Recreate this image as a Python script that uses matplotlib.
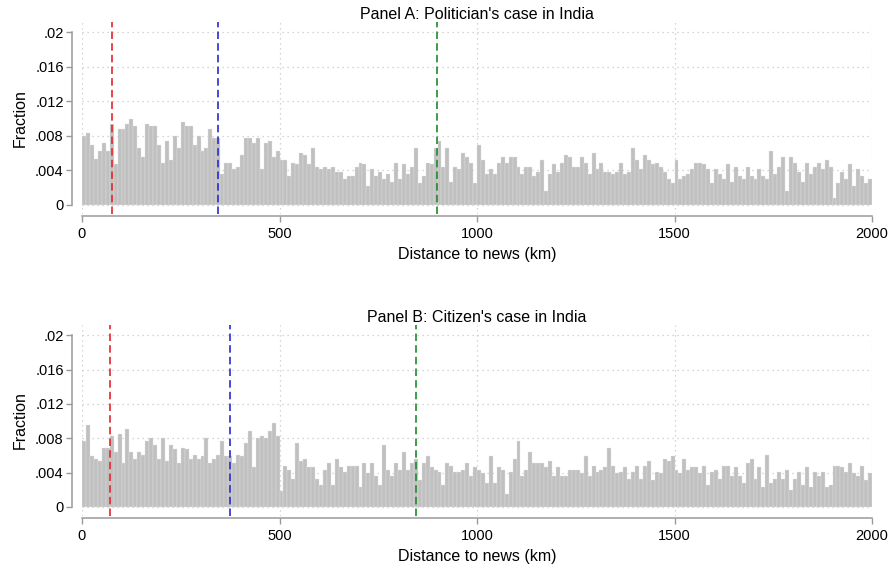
#!/usr/bin/python3
#
# plot.py: histogramas da distância até a notícia (Painel A / Painel B).
#
#   Frações por bin de 10 km (0-2000 km),
#   com as linhas verticais tracejadas de referência.

import matplotlib
matplotlib.use("Agg")
import matplotlib.pyplot as plt
import numpy as np

plt.rcParams.update({
    "font.family": ["Liberation Sans", "DejaVu Sans"],
    "font.size": 10,
})

BIN_LO, BIN_HI = 0, 2000

# Painel A: político (200 bins de 10 km)
frac_a = [
    .0080, .0083, .0069, .0053, .0063, .0072, .0063, .0094, .0047, .0088,
    .0088, .0094, .0099, .0091, .0066, .0055, .0094, .0091, .0091, .0069,
    .0049, .0074, .0052, .0080, .0066, .0096, .0091, .0091, .0069, .0080,
    .0063, .0066, .0088, .0077, .0077, .0036, .0049, .0049, .0041, .0044,
    .0058, .0077, .0077, .0072, .0077, .0041, .0072, .0074, .0055, .0063,
    .0052, .0052, .0033, .0049, .0047, .0060, .0058, .0047, .0066, .0044,
    .0041, .0044, .0041, .0044, .0038, .0038, .0030, .0033, .0033, .0044,
    .0049, .0047, .0022, .0041, .0033, .0038, .0030, .0036, .0027, .0049,
    .0030, .0047, .0036, .0044, .0066, .0025, .0033, .0049, .0047, .0066,
    .0074, .0044, .0066, .0027, .0044, .0041, .0060, .0055, .0049,
    .0025, .0069, .0052, .0036, .0041, .0036, .0049, .0055, .0049, .0055,
    .0055, .0044, .0036, .0044, .0044, .0033, .0038, .0052, .0016, .0036,
    .0047, .0038, .0049, .0058, .0055, .0044, .0044, .0055, .0049, .0036,
    .0060, .0041, .0049, .0038, .0038, .0036, .0038, .0049, .0036, .0038,
    .0066, .0052, .0041, .0058, .0052, .0047, .0049, .0044, .0038, .0030,
    .0025, .0052, .0030, .0033, .0036, .0041, .0049, .0049, .0047, .0041,
    .0025, .0041, .0036, .0030, .0047, .0027, .0044, .0033, .0030, .0044,
    .0033, .0030, .0041, .0033, .0030, .0063, .0036, .0044, .0055, .0016,
    .0055, .0049, .0038, .0027, .0049, .0036, .0044, .0049, .0041, .0052,
    .0044, .0008, .0025, .0038, .0030, .0047, .0022, .0041, .0033, .0025,
    .0030,
]

# Painel B: cidadão (200 bins de 10 km)
frac_b = [
    .0077, .0095, .0059, .0056, .0054, .0069, .0069, .0083, .0064, .0085,
    .0051, .0091, .0064, .0056, .0064, .0061, .0077, .0080, .0072, .0056,
    .0080, .0054, .0072, .0067, .0051, .0069, .0067, .0056, .0061, .0056,
    .0059, .0080, .0051, .0056, .0061, .0077, .0059, .0059, .0051, .0061,
    .0059, .0075, .0088, .0046, .0080, .0083, .0080, .0088, .0098, .0083,
    .0018, .0048, .0043, .0033, .0074, .0054, .0056, .0046, .0046, .0033,
    .0026, .0043, .0051, .0026, .0056, .0046, .0041, .0048, .0048, .0048,
    .0023, .0051, .0039, .0051, .0036, .0026, .0072, .0043, .0036, .0051,
    .0043, .0064, .0043, .0051, .0056, .0031, .0051, .0059, .0046, .0043,
    .0041, .0026, .0051, .0048, .0041, .0041, .0043, .0051, .0036,
    .0046, .0043, .0039, .0028, .0059, .0028, .0046, .0043, .0015, .0041,
    .0056, .0077, .0036, .0043, .0064, .0051, .0051, .0051, .0046, .0054,
    .0036, .0046, .0036, .0036, .0043, .0043, .0043, .0039, .0059, .0036,
    .0048, .0041, .0043, .0046, .0069, .0048, .0039, .0041, .0046, .0033,
    .0041, .0048, .0033, .0048, .0054, .0031, .0041, .0039, .0056, .0054,
    .0059, .0043, .0039, .0056, .0043, .0046, .0046, .0039, .0048, .0026,
    .0041, .0043, .0033, .0048, .0048, .0036, .0046, .0036, .0028, .0051,
    .0056, .0033, .0046, .0023, .0061, .0028, .0033, .0041, .0033, .0043,
    .0020, .0033, .0041, .0026, .0046, .0023, .0041, .0036, .0041, .0023,
    .0026, .0048, .0048, .0046, .0041, .0051, .0039, .0036, .0048, .0031,
    .0039,
]

# linhas de referência (km): vermelho, azul, verde
vlines_a = [77, 344, 898]
vlines_b = [72, 374, 845]
vline_colors = ["#e3262a", "#2a2ad0", "#1f8a2a"]

yticks = [0, .004, .008, .012, .016, .02]
ytick_labels = ["0", ".004", ".008", ".012", ".016", ".02"]
xticks = [0, 500, 1000, 1500, 2000]

titles = ["Panel A: Politician's case in India", "Panel B: Citizen's case in India"]

_BAR = "#c0c0c0"
_AXIS = "#9a9a9a"


def _panel(ax, frac, vlines, title):
    edges = np.linspace(BIN_LO, BIN_HI, len(frac) + 1)
    ax.bar(edges[:-1], frac, width=np.diff(edges), align="edge",
           color=_BAR, edgecolor="#e4e4e4", linewidth=0.25, zorder=2)
    for x, c in zip(vlines, vline_colors):
        ax.axvline(x, color=c, lw=1.2, ls=(0, (4.5, 2.5)), zorder=3)

    ax.set_xlim(BIN_LO, BIN_HI)
    ax.set_ylim(-0.00106, 0.0212)
    ax.set_yticks(yticks)
    ax.set_yticklabels(ytick_labels)
    ax.set_xticks(xticks)
    ax.grid(True, ls=(0, (1, 3)), color="#c8c8c8", lw=0.9, zorder=0)
    ax.set_axisbelow(True)

    for s in ("top", "right"):
        ax.spines[s].set_visible(False)
    ax.spines["left"].set_position(("outward", 7.2))
    ax.spines["left"].set_bounds(0, 0.02)
    ax.spines["bottom"].set_position(("outward", 1.5))
    ax.spines["bottom"].set_bounds(BIN_LO, BIN_HI)
    for s in ("left", "bottom"):
        ax.spines[s].set_color(_AXIS)
        ax.spines[s].set_linewidth(1.1)
    ax.tick_params(axis="both", colors=_AXIS, labelcolor="black",
                   length=4, width=1.0, labelsize=10.5)
    ax.tick_params(axis="y", pad=2)

    ax.set_title(title, fontsize=11.5, pad=2)
    ax.set_xlabel("Distance to news (km)", fontsize=11.5, labelpad=5)
    ax.set_ylabel("Fraction", fontsize=11.5, labelpad=5)


fig = plt.figure(figsize=(8.92, 5.66), dpi=100)
ax_a = fig.add_axes([82 / 892, 1 - 214 / 566, 790 / 892, 192 / 566])
ax_b = fig.add_axes([82 / 892, 1 - 516 / 566, 790 / 892, 191 / 566])

_panel(ax_a, frac_a, vlines_a, titles[0])
_panel(ax_b, frac_b, vlines_b, titles[1])

fig.savefig("out.png", dpi=100)
plt.close(fig)
